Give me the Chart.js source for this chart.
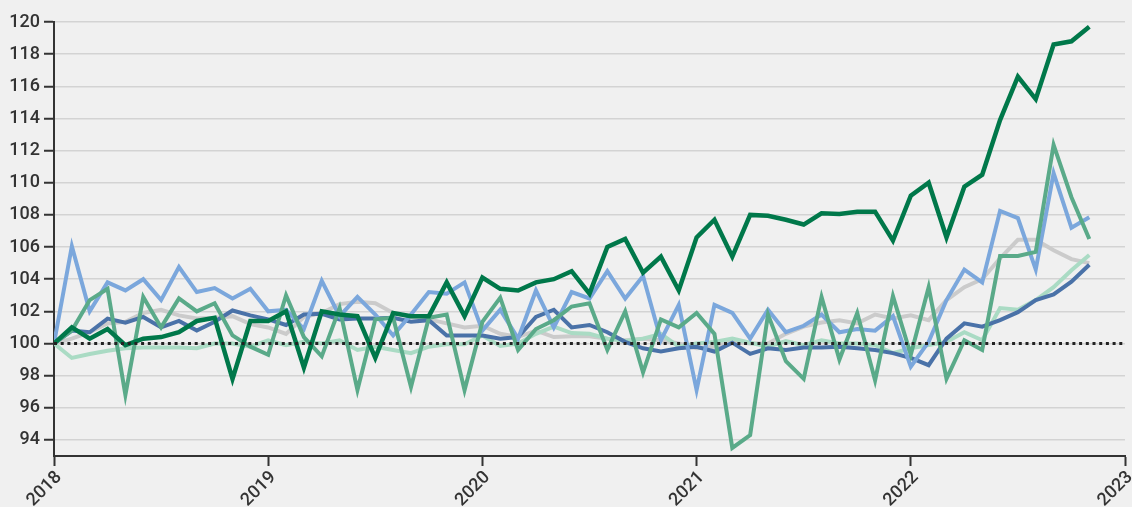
<!DOCTYPE html>
<html>
<head>
<meta charset="utf-8">
<script src="https://cdn.jsdelivr.net/npm/chart.js@4/dist/chart.umd.min.js"></script>
<style>
  html, body { margin: 0; padding: 0; background: #f0f0f0; }
  #wrap { width: 1132px; height: 507px; }
</style>
</head>
<body>
<div id="wrap"><canvas id="indexChart"></canvas></div>
<script>
/* ── Data: monthly index values, Jan 2018 = 100, Jan 2018 – Nov 2022 ── */
const years = ['2018', '2019', '2020', '2021', '2022', '2023'];
const yTicks = [94, 96, 98, 100, 102, 104, 106, 108, 110, 112, 114, 116, 118, 120];
const baseline = 100;

const darkGreen = [100, 101.0, 100.3, 100.9, 99.9, 100.3, 100.4, 100.7, 101.4, 101.6, 97.8, 101.4,
  101.4, 102.0, 98.5, 102.0, 101.8, 101.7, 99.1, 101.9, 101.7, 101.7, 103.8, 101.7,
  104.1, 103.4, 103.3, 103.8, 104.0, 104.5, 103.1, 106.0, 106.5, 104.4, 105.4, 103.3,
  106.6, 107.7, 105.4, 108.0, 107.95, 107.7, 107.4, 108.1, 108.05, 108.2, 108.2, 106.4,
  109.2, 110.0, 106.6, 109.75, 110.5, 113.9, 116.6, 115.2, 118.6, 118.8, 119.7];

const midGreen = [100, 100.8, 102.7, 103.4, 96.8, 102.9, 101.0, 102.8, 102.0, 102.5, 100.5, 99.8,
  99.3, 103.0, 100.4, 99.2, 102.2, 97.1, 101.5, 101.6, 97.3, 101.6, 101.8, 97.1,
  101.35, 102.85, 99.6, 100.9, 101.45, 102.3, 102.5, 99.6, 102.0, 98.2, 101.5, 101.0,
  101.9, 100.6, 93.5, 94.3, 101.8, 98.9, 97.8, 102.9, 99.0, 101.9, 97.7, 102.95,
  99.3, 103.5, 97.8, 100.2, 99.6, 105.45, 105.45, 105.7, 112.35, 109.1, 106.5];

const lightBlue = [100, 106.05, 102.0, 103.8, 103.3, 104.0, 102.7, 104.75, 103.2, 103.45, 102.8, 103.4,
  102.0, 102.1, 100.9, 103.9, 101.7, 102.9, 101.8, 100.5, 101.8, 103.2, 103.1, 103.8,
  100.8, 102.1, 100.3, 103.3, 101.0, 103.2, 102.8, 104.5, 102.8, 104.2, 100.2, 102.4,
  97.1, 102.4, 101.9, 100.3, 102.1, 100.7, 101.1, 101.8, 100.7, 100.9, 100.8, 101.7,
  98.55, 100.1, 102.7, 104.6, 103.8, 108.25, 107.8, 104.6, 110.6, 107.2, 107.85];

const darkBlue = [100, 100.8, 100.7, 101.55, 101.3, 101.65, 101.0, 101.4, 100.8, 101.35, 102.05, 101.75,
  101.5, 101.15, 101.8, 101.85, 101.5, 101.55, 101.55, 101.6, 101.35, 101.45, 100.5, 100.5,
  100.5, 100.3, 100.4, 101.65, 102.1, 101.0, 101.15, 100.7, 100.1, 99.7, 99.5, 99.7,
  99.8, 99.5, 100.05, 99.35, 99.7, 99.6, 99.75, 99.75, 99.8, 99.7, 99.6, 99.4,
  99.1, 98.65, 100.3, 101.25, 101.05, 101.45, 101.95, 102.7, 103.05, 103.85, 104.9];

const grey = [100, 100.3, 100.7, 101.25, 101.35, 101.9, 102.1, 101.75, 101.55, 101.6, 101.7, 101.2,
  101.0, 100.6, 101.65, 101.9, 102.45, 102.6, 102.5, 101.9, 101.65, 101.5, 101.25, 101.0,
  101.1, 100.6, 100.4, 100.8, 100.4, 100.45, 100.45, 100.3, 100.2, 100.3, 100.2, 100.0,
  99.7, 99.8, 100.1, 100.0, 100.0, 100.6, 101.05, 101.3, 101.45, 101.25, 101.8, 101.55,
  101.75, 101.45, 102.7, 103.5, 104.0, 105.3, 106.45, 106.45, 105.8, 105.25, 105.0];

const mint = [100, 99.1, 99.35, 99.55, 99.7, 99.75, 99.75, 99.75, 99.7, 100.0, 100.0, 99.8,
  100.2, 99.9, 100.1, 100.0, 100.2, 99.6, 99.8, 99.6, 99.4, 99.8, 99.95, 99.95,
  100.5, 99.85, 100.0, 100.6, 101.05, 100.65, 100.6, 100.3, 100.15, 100.3, 100.6, 99.8,
  100.0, 100.1, 100.3, 100.05, 99.8, 100.15, 99.9, 100.2, 100.0, 100.0, 99.9, 99.4,
  99.7, 99.9, 100.1, 100.7, 100.2, 102.2, 102.1, 102.7, 103.5, 104.55, 105.5];

/* month index on x: 0 = Jan 2018, 12 per year */
const pts = arr => arr.map((v, i) => ({ x: i, y: v }));
const lastMonth = (years.length - 1) * 12;

const font = { family: 'Roboto', size: 18, weight: '500' };
const ink = '#333333';

function line(data, color, width, order) {
  return {
    data: pts(data),
    borderColor: color,
    borderWidth: width,
    borderJoinStyle: 'miter',
    pointRadius: 0,
    fill: false,
    tension: 0,
    order,
  };
}

new Chart(document.getElementById('indexChart').getContext('2d'), {
  type: 'line',
  data: {
    datasets: [
      {
        data: [{ x: 0, y: baseline }, { x: lastMonth, y: baseline }],
        borderColor: '#222222',
        borderWidth: 3,
        borderDash: [3, 3.7],
        pointRadius: 0,
        fill: false,
        order: 0,
      },
      line(darkGreen, '#00784a', 4.5, 1),
      line(midGreen,  '#5aaa89', 4, 2),
      line(lightBlue, '#7ba7dc', 4, 3),
      line(darkBlue,  '#4a72a8', 4, 4),
      line(mint,      '#aadbc4', 4, 5),
      line(grey,      '#cbcbcb', 4, 6),
    ],
  },
  options: {
    responsive: true,
    maintainAspectRatio: false,
    animation: false,
    layout: { padding: { top: 22, right: 7, left: 0, bottom: 0 } },
    plugins: { legend: { display: false }, tooltip: { enabled: false } },
    scales: {
      x: {
        type: 'linear',
        min: 0,
        max: lastMonth,
        afterBuildTicks: s => { s.ticks = years.map((_, i) => ({ value: i * 12 })); },
        // fixed height, and keep the rotated labels from shrinking the plot
        afterFit: s => { s.height = 51; s.paddingLeft = 0; s.paddingRight = 0; },
        grid: { drawOnChartArea: false, tickLength: 10, tickColor: ink, tickWidth: 2 },
        border: { color: ink, width: 2 },
        ticks: {
          font,
          color: ink,
          padding: 1,
          labelOffset: 5,
          minRotation: 45,
          maxRotation: 45,
          callback: v => years[v / 12],
        },
      },
      y: {
        min: 93,
        max: 120,
        afterBuildTicks: s => { s.ticks = yTicks.map(v => ({ value: v })); },
        afterFit: s => { s.width = 54; },
        grid: { color: '#d3d3d3', lineWidth: 1.5, tickLength: 10, tickColor: ink, tickWidth: 2 },
        border: { color: ink, width: 2 },
        ticks: { font, color: ink, padding: 4 },
      },
    },
  },
});
</script>
</body>
</html>
